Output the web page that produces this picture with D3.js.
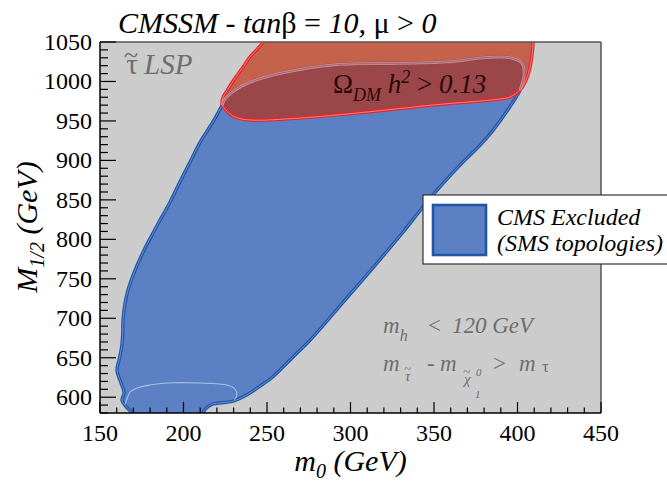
<!DOCTYPE html>
<html><head><meta charset="utf-8">
<script src="https://cdn.jsdelivr.net/npm/d3@7"></script>
<style>
body{margin:0;}
svg text, svg tspan { font-family: "Liberation Serif", serif !important; }
</style>
</head><body>
<svg id="c" width="667" height="491" font-family="Liberation Serif"></svg>
<script>
// ---------- data ----------
const xDomain = [150, 450];
const yDomain = [580, 1050];
const xMajorTicks = [150, 200, 250, 300, 350, 400, 450];
const yMajorTicks = [600, 650, 700, 750, 800, 850, 900, 950, 1000, 1050];
const minorStep = 10;

// CMS excluded region (m0, M1/2), closed contour
const blueRegion = [
  [169.5,574],[169.2,580],[165.6,588],[163.2,596],[164.4,606],[162.6,618],[160.2,634],
  [161.5,648],[163,664],[163.6,680],[163.8,698],[165,719],[166.8,736],[171,761],
  [176.3,786],[181,805],[185.3,822],[191.9,847],[197.9,873],[203.9,898],[209.9,923],
  [217.7,949],[223.1,970],
  [224.9,978],[230.8,989],[239.8,999],[259.6,1011],[289.5,1021],[329.6,1023],
  [359.6,1025],[379.3,1030],[395.5,1030],[402.7,1023],[403.9,1008],[401.5,989],
  [395.5,968],[385.3,938],[377.5,919],[365.6,894],[347.6,852],[331.4,809],
  [314.7,767],[296.7,723],[275.7,672],[265.6,651],[253.6,626],[245.8,614],
  [238,603],[229.6,595],[217.1,591],[213.5,586],[211.7,580],[211.5,574]
];
// upper edge of the excluded region seen through the relic-density band
const blueTopArc = [
  [223.1,970],[224.9,978],[230.8,989],[239.8,999],[259.6,1011],[289.5,1021],
  [329.6,1023],[359.6,1025],[379.3,1030],[395.5,1030],[402.7,1023],[403.9,1008],[401.5,989]
];
// Omega_DM h^2 > 0.13 region
const redRegion = [
  [247.6,1056],[247.6,1050],[244.6,1042],[239.8,1031],[235.6,1018],[230.8,1004],
  [226,988],[223.7,980],[223.1,971.5],[226,962.6],[230.8,955],[239.8,951.2],
  [269.8,953.7],[309.9,961.3],[349.4,970.2],[389.5,977.8],[395.5,980.3],[401.5,989.2],
  [405.1,1001.9],[407.5,1018.3],[408.7,1033.5],[409.3,1048.7],[409.3,1056]
];
// faint contour near the bottom of the excluded region
const faintArc = [
  [165,591],[165.9,596.5],[168,606.6],[172.2,611.7],[180,615.5],[190.1,618],
  [209.9,618],[226,615.5],[230.8,610.4],[232,602.8],[230.5,597]
];

// ---------- layout ----------
const L = 100, R = 601, T = 42, B = 413;
const FONT = "Liberation Serif";
const svg = d3.select("#c");
const xs = d3.scaleLinear().domain(xDomain).range([L, R]);
const ys = d3.scaleLinear().domain(yDomain).range([B, T]);

svg.append("rect").attr("x",L).attr("y",T).attr("width",R-L).attr("height",B-T)
  .attr("fill","#cccccc");
svg.append("clipPath").attr("id","pc")
  .append("rect").attr("x",L).attr("y",T).attr("width",R-L).attr("height",B-T);

const g = svg.append("g").attr("clip-path","url(#pc)");
const closedLine = d3.line().x(d=>xs(d[0])).y(d=>ys(d[1])).curve(d3.curveCatmullRomClosed.alpha(0.5));
const openLine = d3.line().x(d=>xs(d[0])).y(d=>ys(d[1])).curve(d3.curveCatmullRom.alpha(0.5));

g.append("path").attr("d",closedLine(blueRegion)).attr("fill","#5b80c3")
  .attr("stroke","#2456a6").attr("stroke-width",3.4);
g.append("path").attr("d",closedLine(blueRegion)).attr("fill","none")
  .attr("stroke","#6b95d6").attr("stroke-width",0.9);
g.append("path").attr("d",openLine(faintArc)).attr("fill","none")
  .attr("stroke","#a9bde3").attr("stroke-width",1.1);

g.append("path").attr("d",closedLine(redRegion)).attr("fill","rgb(193,37,0)").attr("fill-opacity",0.63)
  .attr("stroke","#e3282c").attr("stroke-width",3.4);
g.append("path").attr("d",closedLine(redRegion)).attr("fill","none")
  .attr("stroke","#f08a8a").attr("stroke-width",0.9);
g.append("path").attr("d",openLine(blueTopArc)).attr("fill","none")
  .attr("stroke","#d9a6ae").attr("stroke-width",3).attr("stroke-opacity",0.75);
g.append("path").attr("d",openLine(blueTopArc)).attr("fill","none")
  .attr("stroke","#a35a5e").attr("stroke-width",0.8);

// ---------- frame & ticks ----------
svg.append("line").attr("x1",L).attr("x2",R).attr("y1",T).attr("y2",T).attr("stroke","#555").attr("stroke-width",1.5);
svg.append("line").attr("x1",R).attr("x2",R).attr("y1",T).attr("y2",B).attr("stroke","#555").attr("stroke-width",1.5);

const xAll = d3.range(xDomain[0], xDomain[1]+0.1, minorStep);
const yAll = d3.range(yDomain[0], yDomain[1]+0.1, minorStep);
xAll.forEach(v=>{
  const major = xMajorTicks.includes(v);
  svg.append("line").attr("x1",xs(v)).attr("x2",xs(v)).attr("y1",B).attr("y2",B-(major?11:5.5))
    .attr("stroke","#000").attr("stroke-width",1.2);
});
yAll.forEach(v=>{
  const major = yMajorTicks.includes(v);
  svg.append("line").attr("x1",L).attr("x2",L+(major?16:8)).attr("y1",ys(v)).attr("y2",ys(v))
    .attr("stroke","#000").attr("stroke-width",1.2);
});
svg.append("line").attr("x1",L).attr("x2",R).attr("y1",B).attr("y2",B).attr("stroke","#000").attr("stroke-width",1.5);
svg.append("line").attr("x1",L).attr("x2",L).attr("y1",T).attr("y2",B).attr("stroke","#000").attr("stroke-width",1.5);

// ---------- texts ----------
xMajorTicks.forEach(v=>{
  svg.append("text").attr("x",xs(v)).attr("y",441).attr("font-size",24).attr("font-family",FONT)
    .attr("text-anchor","middle").text(String(v));
});
yMajorTicks.forEach(v=>{
  svg.append("text").attr("x",92).attr("y",ys(v)+8).attr("font-size",24).attr("font-family",FONT)
    .attr("text-anchor","end").text(String(v));
});

const xl = svg.append("text").attr("x",(L+R)/2).attr("y",471).attr("font-size",30).attr("font-family",FONT)
  .attr("text-anchor","middle").attr("font-style","italic");
xl.append("tspan").text("m");
xl.append("tspan").attr("font-size",20).attr("dy",7).text("0");
xl.append("tspan").attr("dy",-7).text(" (GeV)");

const yl = svg.append("text").attr("transform","translate(37,227) rotate(-90)").attr("font-size",30).attr("font-family",FONT)
  .attr("text-anchor","middle").attr("font-style","italic");
yl.append("tspan").text("M");
yl.append("tspan").attr("font-size",20).attr("dy",7).text("1/2");
yl.append("tspan").attr("dy",-7).text(" (GeV)");

const tt = svg.append("text").attr("x",118).attr("y",33).attr("font-size",30).attr("font-family",FONT);
tt.append("tspan").attr("font-style","italic").text("CMSSM - tan");
tt.append("tspan").text("β = ");
tt.append("tspan").attr("font-style","italic").text("10, ");
tt.append("tspan").text("μ > ");
tt.append("tspan").attr("font-style","italic").text("0");

const grayTxt = "#6e6e6e";
const lsp = svg.append("text").attr("x",124).attr("y",74).attr("font-size",29).attr("font-family",FONT).attr("fill",grayTxt);
lsp.append("tspan").text("τ");
lsp.append("tspan").attr("dx",-14).attr("dy",-11).attr("font-size",26).text("~");
lsp.append("tspan").attr("dx",6).attr("dy",11).attr("font-style","italic").text("LSP");

const om = svg.append("text").attr("x",333).attr("y",93).attr("font-size",27).attr("font-family",FONT).attr("fill","#2a0808");
om.append("tspan").text("Ω");
om.append("tspan").attr("font-size",18).attr("font-style","italic").attr("dy",8).text("DM");
om.append("tspan").attr("font-style","italic").attr("dy",-8).text(" h");
om.append("tspan").attr("font-size",18).attr("font-style","italic").attr("dy",-10).text("2");
om.append("tspan").attr("dy",10).text(" > ");
om.append("tspan").attr("font-style","italic").text("0.13");

const c1 = svg.append("text").attr("y",333).attr("font-size",23).attr("font-family",FONT).attr("fill",grayTxt).attr("font-style","italic");
c1.append("tspan").attr("x",383).text("m");
c1.append("tspan").attr("font-size",16).attr("dy",8).text("h");
c1.append("tspan").attr("x",428).attr("dy",-8).attr("font-style","normal").text("<");
c1.append("tspan").attr("x",452).text("120 GeV");

const c2 = svg.append("text").attr("y",371).attr("font-size",23).attr("font-family",FONT).attr("fill",grayTxt).attr("font-style","italic");
c2.append("tspan").attr("x",383).text("m");
c2.append("tspan").attr("x",405).attr("dy",10).attr("font-size",15).text("τ");
c2.append("tspan").attr("x",404).attr("dy",-8).attr("font-size",13).text("~");
c2.append("tspan").attr("x",427).attr("dy",-2).text("-");
c2.append("tspan").attr("x",440).text("m");
c2.append("tspan").attr("x",464).attr("dy",13).attr("font-size",15).text("χ");
c2.append("tspan").attr("x",463).attr("dy",-8).attr("font-size",13).text("~");
c2.append("tspan").attr("x",476).attr("dy",0).attr("font-size",11).text("0");
c2.append("tspan").attr("x",475).attr("dy",22).attr("font-size",11).text("1");
c2.append("tspan").attr("x",493).attr("dy",-27).attr("font-style","normal").text(">");
c2.append("tspan").attr("x",519).text("m");
c2.append("tspan").attr("x",542).attr("dy",1).attr("font-size",17).attr("font-style","normal").text("τ");

svg.append("rect").attr("x",423).attr("y",195).attr("width",260).attr("height",69)
  .attr("fill","#fff").attr("stroke","#333").attr("stroke-width",1.2);
svg.append("rect").attr("x",433).attr("y",205).attr("width",53).attr("height",50)
  .attr("fill","#5b80c3").attr("stroke","#2456a6").attr("stroke-width",2.6);
svg.append("text").attr("x",497).attr("y",225).attr("font-size",24).attr("font-family",FONT).attr("font-style","italic").text("CMS Excluded");
svg.append("text").attr("x",497).attr("y",251).attr("font-size",24).attr("font-family",FONT).attr("font-style","italic").text("(SMS topologies)");
</script>
</body></html>
